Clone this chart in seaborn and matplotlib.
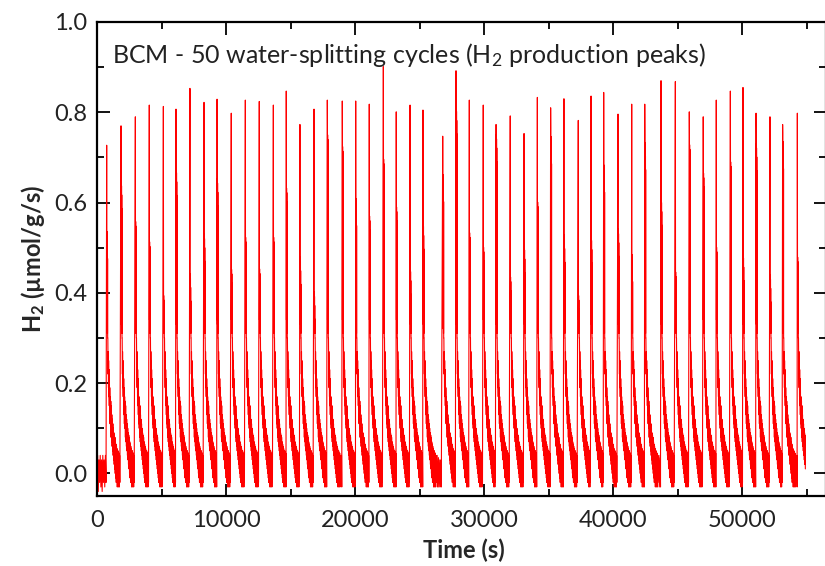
import numpy as np
import pandas as pd
import matplotlib
matplotlib.use("Agg")
import matplotlib.pyplot as plt
import seaborn as sns
from matplotlib.ticker import MultipleLocator, FormatStrFormatter

# ---------------- data ----------------
peak_time = [750, 1860, 2970, 4050, 5140, 6120, 7200, 8290, 9300, 10400,
             11490, 12570, 13660, 14660, 15720, 16810, 17840, 19000, 20040, 21090,
             22180, 23180, 24250, 25250, 26780, 27810, 28840, 29920, 30910, 32010,
             33080, 34110, 35140, 36170, 37280, 38270, 39250, 40360, 41420, 42430,
             43690, 44800, 45880, 46960, 47970, 49060, 50040, 51050, 52130, 53110,
             54250]
peak_height = [0.727, 0.770, 0.790, 0.816, 0.813, 0.807, 0.853, 0.822, 0.829, 0.798,
               0.827, 0.824, 0.816, 0.847, 0.773, 0.807, 0.827, 0.825, 0.825, 0.818,
               0.901, 0.801, 0.816, 0.805, 0.747, 0.892, 0.827, 0.816, 0.773, 0.792,
               0.753, 0.833, 0.810, 0.830, 0.782, 0.836, 0.844, 0.796, 0.818, 0.818,
               0.870, 0.868, 0.801, 0.790, 0.827, 0.847, 0.855, 0.798, 0.790, 0.773,
               0.798]
second_level = [0.556, 0.667, 0.578, 0.533, 0.414, 0.696, 0.462, 0.550, 0.673, 0.472,
                0.543, 0.473, 0.543, 0.652, 0.499, 0.422, 0.770, 0.744, 0.629, 0.590,
                0.716, 0.610, 0.477, 0.577, 0.682, 0.832, 0.553, 0.521, 0.771, 0.455,
                0.525, 0.621, 0.766, 0.548, 0.414, 0.546, 0.703, 0.561, 0.505, 0.753,
                0.630, 0.466, 0.748, 0.685, 0.521, 0.710, 0.507, 0.751, 0.460, 0.755,
                0.499]

# thick part just after each peak (offset in s, drop below the second level)
thick_offset = [10, 25, 40, 55, 70]
thick_drop = [0.0, 0.02, 0.03, 0.05, 0.08]
thick_low = [0.34, 0.33, 0.32, 0.31, 0.30]

# typical decay tail after each peak (offset in s, upper / lower trace of the noisy signal)
tail_offset = [90, 120, 150, 180, 210, 240, 280, 320, 360, 400, 440, 480, 520, 560,
               600, 640, 680, 720, 760, 800, 840, 880, 920, 960, 1000, 1100, 1200,
               1300, 1400, 1500]
tail_upper = [0.30, 0.27, 0.25, 0.23, 0.21, 0.19, 0.17, 0.16, 0.15, 0.13, 0.12, 0.11,
              0.10, 0.09, 0.085, 0.08, 0.07, 0.065, 0.06, 0.055, 0.05, 0.05, 0.045,
              0.045, 0.04, 0.04, 0.035, 0.03, 0.03, 0.03]
tail_lower = [0.22, 0.19, 0.17, 0.15, 0.13, 0.11, 0.10, 0.08, 0.07, 0.06, 0.05, 0.04,
              0.03, 0.02, 0.01, 0.00, -0.01, -0.02, -0.02, -0.03, -0.02, -0.03, -0.02,
              -0.03, -0.02, -0.03, -0.03, -0.03, -0.03, -0.03]

# noisy baseline before the first cycle
pre_time = [0, 50, 100, 150, 200, 250, 300, 350, 400, 450, 500, 550, 600, 650, 700]
pre_value = [-0.03, 0.04, -0.04, 0.03, -0.02, 0.04, -0.03, 0.03, -0.04, 0.04, -0.02,
             0.03, -0.03, 0.04, -0.02]
data_end = 54900

# ---------------- assemble the trace from the read values ----------------
ts, vs = list(pre_time), list(pre_value)
n = len(peak_time)
for i in range(n):
    t0 = peak_time[i]
    stop = peak_time[i + 1] - 15 if i + 1 < n else data_end
    ts.append(t0)
    vs.append(peak_height[i])
    for off, dr, lo in zip(thick_offset, thick_drop, thick_low):
        ts += [t0 + off, t0 + off + 7]
        vs += [second_level[i] - dr, lo]
    for off, up, lo in zip(tail_offset, tail_upper, tail_lower):
        if t0 + off + 20 > stop:
            break
        ts += [t0 + off, t0 + off + 20]
        vs += [up, lo]
df = pd.DataFrame({"Time (s)": ts, "H2": vs})

# ---------------- plot ----------------
sns.set_theme(style="ticks")
plt.rcParams["font.family"] = ["Lato", "DejaVu Sans"]
plt.rcParams["mathtext.fontset"] = "custom"
plt.rcParams["mathtext.rm"] = "Lato"
plt.rcParams["mathtext.bf"] = "Lato:bold"
plt.rcParams["mathtext.default"] = "regular"

fig = plt.figure(figsize=(8.25, 5.66), dpi=100)
ax = fig.add_axes([97 / 825, 70 / 566, 729 / 825, 474 / 566])

sns.lineplot(data=df, x="Time (s)", y="H2", ax=ax, sort=False, estimator=None,
             color="#ff0000", linewidth=0.8)

ax.set_xlim(0, 56470)
ax.set_ylim(-0.05, 1.0)
ax.xaxis.set_major_locator(MultipleLocator(10000))
ax.xaxis.set_minor_locator(MultipleLocator(5000))
ax.yaxis.set_major_locator(MultipleLocator(0.2))
ax.yaxis.set_minor_locator(MultipleLocator(0.1))
ax.yaxis.set_major_formatter(FormatStrFormatter("%.1f"))
ax.tick_params(which="both", direction="in", top=True, right=True, width=1.3,
               color="black", labelsize=17, labelcolor="#222222")
ax.tick_params(which="major", length=9, pad=7)
ax.tick_params(axis="x", which="major", pad=10)
ax.tick_params(which="minor", length=5)
for s in ax.spines.values():
    s.set_linewidth(1.6)
    s.set_color("black")

ax.set_xlabel("Time (s)", fontsize=17, fontweight="bold")
ax.set_ylabel(r"$\mathbf{H_2}$ (µmol/g/s)", fontsize=17, fontweight="bold")
ax.xaxis.set_label_coords((464 - 97) / 729, (496 - 539) / 474)
ax.yaxis.set_label_coords((33 - 97) / 729, 0.5)
ax.yaxis.label.set_va("center")

ax.text(0.0206, (496 - 63) / 474, r"BCM - 50 water-splitting cycles (H$_2$ production peaks)",
        transform=ax.transAxes, fontsize=18, va="baseline", ha="left", color="#222222")

fig.savefig("out.png", dpi=100)
